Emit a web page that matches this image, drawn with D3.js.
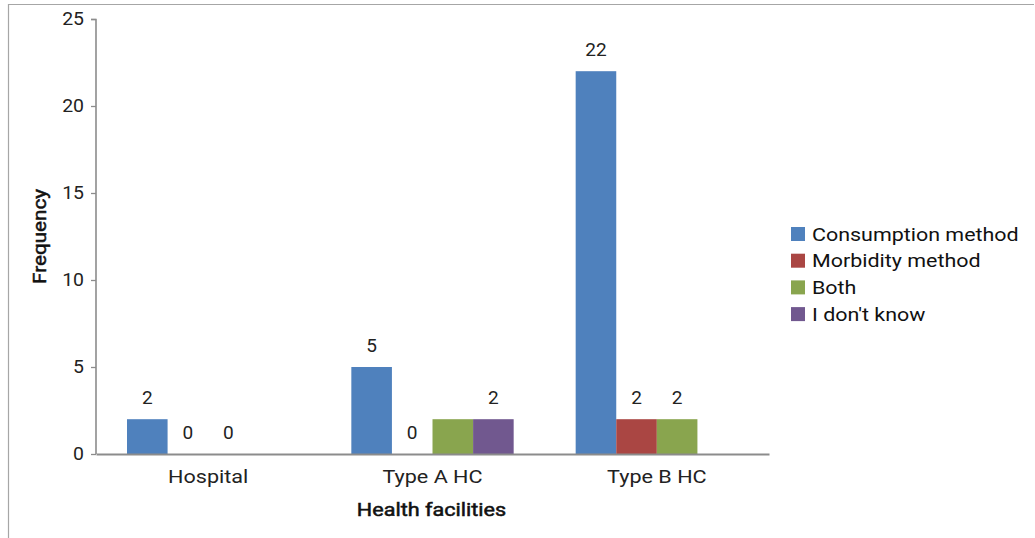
<!DOCTYPE html>
<html>
<head>
<meta charset="utf-8">
<script src="https://cdn.jsdelivr.net/npm/d3@7"></script>
<style>
  html, body { margin: 0; padding: 0; background: #fff; }
  svg { display: block; font-family: Roboto, "Noto Sans", sans-serif; }
</style>
</head>
<body>
<svg id="chart" width="1035" height="538"></svg>
<script>
// Facilities on the x axis
const facilities = ["Hospital", "Type A HC", "Type B HC"];
// Answer series
const seriesNames = ["Consumption method", "Morbidity method", "Both", "I don't know"];
const seriesColors = ["#4f81bd", "#aa4643", "#89a54e", "#71588f"];
// Frequency per facility for each series
const consumption = [2, 5, 22];
const morbidity   = [0, 0, 2];
const both        = [0, 2, 2];
const dontKnow    = [0, 2, 0];
// Printed value labels (null = no label shown)
const consumptionLabels = ["2", "5", "22"];
const morbidityLabels   = ["0", "0", "2"];
const bothLabels        = ["0", null, "2"];
const dontKnowLabels    = [null, "2", null];
// Y axis ticks
const yTicks = [0, 5, 10, 15, 20, 25];

const seriesValues = [consumption, morbidity, both, dontKnow];
const seriesLabels = [consumptionLabels, morbidityLabels, bothLabels, dontKnowLabels];

// widen glyphs horizontally around the text's own x position
function widen(sel, k) {
  sel.each(function () {
    const t = d3.select(this);
    const x = +(t.attr("x") || 0);
    t.attr("x", x / k).attr("transform", `scale(${k},1)`);
  });
}

const svg = d3.select("#chart");
const margin = { left: 96, right: 1035 - 769, top: 19, bottom: 538 - 454 };
const width = 1035 - margin.left - margin.right;
const height = 538 - margin.top - margin.bottom;

// outer frame
svg.append("path")
  .attr("d", "M8.5,538 V4.5 H1034")
  .attr("fill", "none").attr("stroke", "#a6a6a6").attr("stroke-width", 1.2);

const g = svg.append("g").attr("transform", `translate(${margin.left},${margin.top})`);

// one band per facility, four bars clustered in the middle of each band
const x0 = d3.scaleBand().domain(facilities).range([0, width]);
const x1 = d3.scaleBand().domain(seriesNames).range([31, x0.bandwidth() - 31]);

const y = d3.scaleLinear().domain([0, 25]).range([height, 0]);

// y axis
const yAxis = d3.axisLeft(y).tickValues(yTicks).tickSize(5).tickPadding(7);
const ya = g.append("g").call(yAxis);
ya.select(".domain").attr("stroke", "#8c8c8c").attr("stroke-width", 1.6)
  .attr("d", `M-5,0.5H0V${height}`);
ya.selectAll(".tick line").attr("stroke", "#8c8c8c").attr("stroke-width", 1.3);
ya.selectAll(".tick text").attr("font-size", 18).attr("fill", "#222")
  .attr("font-family", "Roboto, sans-serif");
widen(ya.selectAll(".tick text"), 1.08);

// bars and value labels
const rows = facilities.map((f, i) => ({ f, i }));
const groups = g.selectAll(".grp").data(rows).join("g")
  .attr("class", "grp")
  .attr("transform", d => `translate(${x0(d.f)},0)`);

seriesNames.forEach((s, si) => {
  groups.append("rect")
    .attr("x", x1(s))
    .attr("width", x1.bandwidth())
    .attr("y", d => y(seriesValues[si][d.i]))
    .attr("height", d => height - y(seriesValues[si][d.i]))
    .attr("fill", seriesColors[si]);
  const lbl = groups.filter(d => seriesLabels[si][d.i] !== null)
    .append("text")
    .attr("x", x1(s) + x1.bandwidth() / 2)
    .attr("y", d => y(seriesValues[si][d.i]) - 15)
    .attr("text-anchor", "middle")
    .attr("font-size", 18).attr("fill", "#222")
    .text(d => seriesLabels[si][d.i]);
  widen(lbl, 1.06);
});

// x axis
const xAxis = d3.axisBottom(x0).tickSize(0).tickPadding(16);
const xa = g.append("g").attr("transform", `translate(0,${height})`).call(xAxis);
xa.select(".domain").attr("stroke", "#8c8c8c").attr("stroke-width", 2.2);
xa.selectAll(".tick text").attr("font-size", 18).attr("fill", "#222")
  .attr("font-family", "Roboto, sans-serif");
widen(xa.selectAll(".tick text"), 1.2);

// axis titles (medium weight: regular glyphs with a thin outline)
const xTitle = svg.append("text")
  .attr("x", margin.left + width / 2 - 1).attr("y", 516)
  .attr("text-anchor", "middle").attr("font-size", 18)
  .attr("fill", "#111").attr("stroke", "#111").attr("stroke-width", 0.5)
  .text("Health facilities");
widen(xTitle, 1.2);
svg.append("g")
  .attr("transform", `translate(46,${margin.top + height / 2}) rotate(-90)`)
  .append("text")
  .attr("text-anchor", "middle").attr("font-size", 18)
  .attr("fill", "#111").attr("stroke", "#111").attr("stroke-width", 0.5)
  .text("Frequency")
  .call(widen, 1.15);

// legend
const legend = svg.append("g").attr("transform", "translate(791,227)");
seriesNames.forEach((s, si) => {
  const row = legend.append("g").attr("transform", `translate(0,${si * 26.7})`);
  row.append("rect").attr("width", 14).attr("height", 14).attr("fill", seriesColors[si]);
  row.append("text").attr("x", 21).attr("y", 13.5)
    .attr("font-size", 18.5)
    .attr("fill", "#111").text(s)
    .call(widen, 1.16);
});
</script>
</body>
</html>
